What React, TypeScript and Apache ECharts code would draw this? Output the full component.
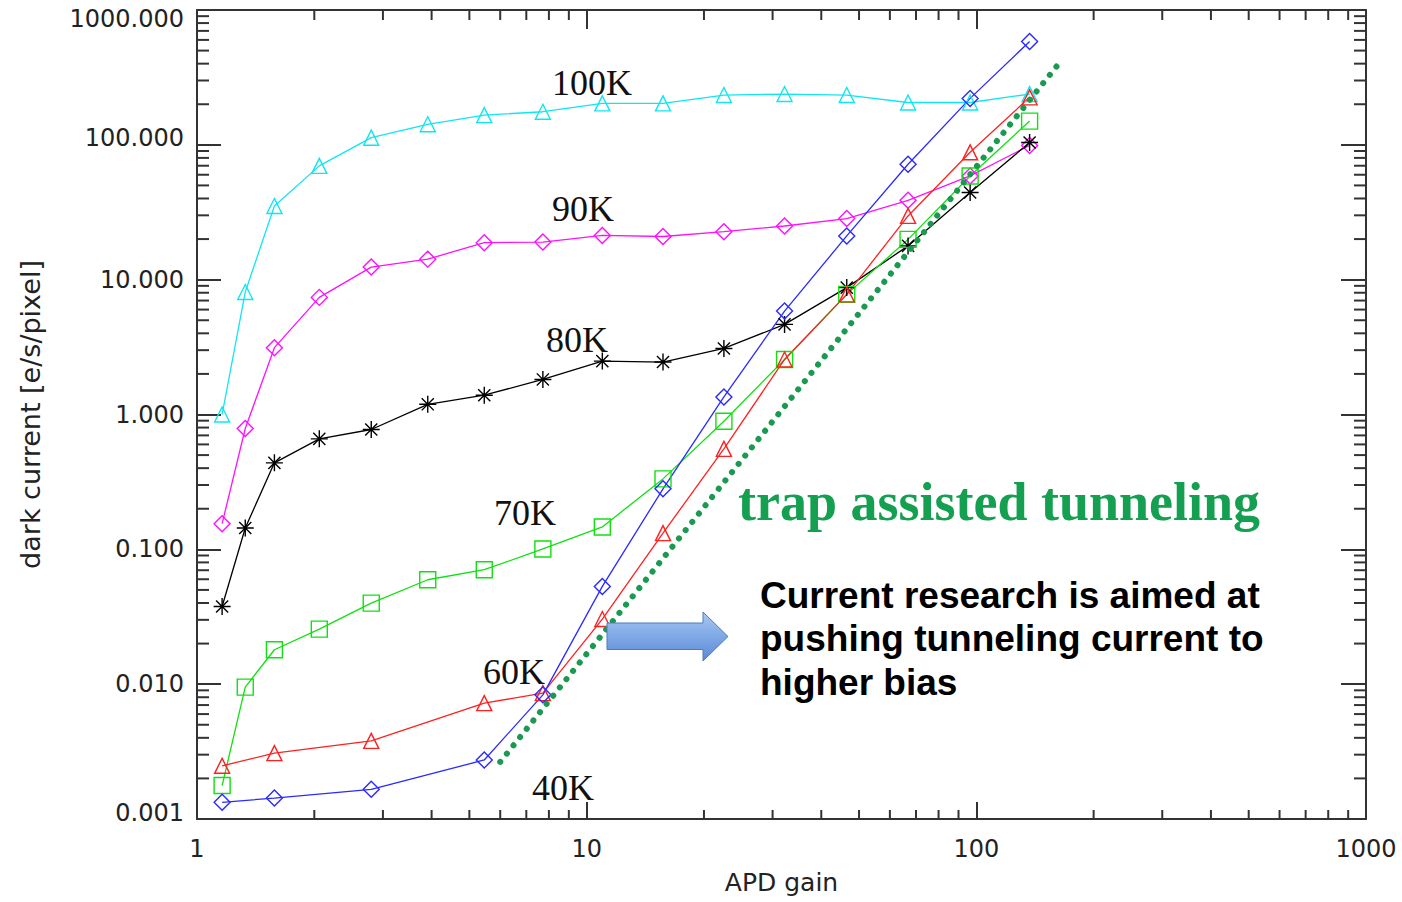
import React, { useEffect, useRef } from 'react';
import * as echarts from 'echarts';

// APD gain values at which the dark current was measured
const gain = [1.16, 1.33, 1.58, 2.06, 2.8, 3.91, 5.46, 7.72, 10.97, 15.7, 22.5, 32.2, 46.5, 66.8, 96.4, 137];
const gainSparse = [1.16, 1.58, 2.8, 5.46, 7.72, 10.97, 15.7, 22.5, 32.2, 46.5, 66.8, 96.4, 137];

// dark current [e/s/pixel]
const dc100K = [1.0, 8.1, 35.2, 69.8, 113, 142, 166, 176, 203, 203, 234, 238, 234, 206, 206, 238];
const dc90K = [0.155, 0.787, 3.13, 7.39, 12.4, 14.2, 18.8, 19.0, 21.3, 20.9, 22.7, 25.0, 28.4, 38.8, 58.8, 99];
const dc80K = [0.0377, 0.144, 0.438, 0.66, 0.774, 1.19, 1.39, 1.82, 2.49, 2.45, 3.09, 4.66, 8.73, 17.8, 44.3, 104];
const dc70K = [0.00177, 0.00951, 0.018, 0.0256, 0.0399, 0.0595, 0.0706, 0.1006, 0.1466, 0.333, 0.892, 2.56, 7.78, 19.9, 58.8, 150];
const dc60K = [0.00248, 0.00308, 0.0038, 0.00723, 0.00858, 0.0304, 0.132, 0.556, 2.56, 7.78, 29.7, 88, 225];
const dc40K = [0.00133, 0.00143, 0.00166, 0.00274, 0.00833, 0.0531, 0.281, 1.35, 5.85, 21.1, 71.8, 221, 584];

// trap assisted tunneling guide line
const tatGain = [6.0, 164];
const tatCurrent = [0.00265, 411];

// minor tick positions (log axes)
const minorMantissas = [2, 3, 4, 5, 6, 7, 8, 9];
const xDecades = [1, 10, 100];
const yDecades = [0.001, 0.01, 0.1, 1, 10, 100];

const seriesLabels = ['100K', '90K', '80K', '70K', '60K', '40K'];

const AXIS_COLOR = '#333';
const LABEL_FONT = 'DejaVu Sans';

const asteriskPath =
  'path://M8,0L8,16M0,8L16,8M2.3,2.3L13.7,13.7M2.3,13.7L13.7,2.3';

function pairs(xs: number[], ys: number[]) {
  return ys.map((y, i) => [xs[i], y]);
}

function lineSeries(name: string, xs: number[], ys: number[], color: string, symbol: string, size: number) {
  return {
    name,
    type: 'line',
    data: pairs(xs, ys),
    symbol,
    symbolSize: size,
    showSymbol: true,
    lineStyle: { color, width: 1.3 },
    itemStyle: { color: 'rgba(0,0,0,0)', borderColor: color, borderWidth: 1.4 },
    emphasis: { disabled: true },
    z: 3,
  };
}

export default function App() {
  const ref = useRef<HTMLDivElement>(null);

  useEffect(() => {
    if (!ref.current) return;
    const chart = echarts.init(ref.current, null, { renderer: 'svg' });

    const minorData: number[][] = [];
    xDecades.forEach((d) => minorMantissas.forEach((m) => minorData.push([d * m, 1, 0])));
    yDecades.forEach((d) => minorMantissas.forEach((m) => minorData.push([1, d * m, 1])));

    const labelStyle = { fontFamily: LABEL_FONT, fontSize: 24, color: '#222' };

    const option: any = {
      animation: false,
      backgroundColor: '#fff',
      grid: { left: 197, right: 36, top: 10, bottom: 83, containLabel: false },
      xAxis: [
        {
          type: 'log',
          logBase: 10,
          min: 1,
          max: 1000,
          position: 'bottom',
          name: 'APD gain',
          nameLocation: 'middle',
          nameGap: 51,
          nameTextStyle: { fontFamily: LABEL_FONT, fontSize: 25, color: '#222' },
          axisLine: { show: true, onZero: false, lineStyle: { color: AXIS_COLOR, width: 2 } },
          axisTick: { show: true, inside: true, length: 17, lineStyle: { color: AXIS_COLOR, width: 2 } },
          axisLabel: { ...labelStyle, margin: 18, formatter: (v: number) => String(Math.round(v)) },
          splitLine: { show: false },
        },
        {
          type: 'log',
          logBase: 10,
          min: 1,
          max: 1000,
          position: 'top',
          axisLine: { show: true, onZero: false, lineStyle: { color: AXIS_COLOR, width: 2 } },
          axisTick: { show: true, inside: true, length: 19, lineStyle: { color: AXIS_COLOR, width: 2 } },
          axisLabel: { show: false },
          splitLine: { show: false },
        },
      ],
      yAxis: [
        {
          type: 'log',
          logBase: 10,
          min: 0.001,
          max: 1000,
          position: 'left',
          name: 'dark current [e/s/pixel]',
          nameLocation: 'middle',
          nameGap: 153,
          nameTextStyle: { fontFamily: LABEL_FONT, fontSize: 27, color: '#222' },
          axisLine: { show: true, onZero: false, lineStyle: { color: AXIS_COLOR, width: 2 } },
          axisTick: { show: true, inside: true, length: 24, lineStyle: { color: AXIS_COLOR, width: 2 } },
          axisLabel: {
            ...labelStyle,
            margin: 13,
            formatter: (v: number) => {
              const s = v.toFixed(3);
              if (v > 500) return `{top|${s}}`;
              if (v > 50) return `{up|${s}}`;
              if (v < 0.002) return `{up|${s}}`;
              return s;
            },
            rich: {
              top: { ...labelStyle, padding: [18, 0, 0, 0] },
              up: { ...labelStyle, padding: [0, 0, 13, 0] },
            },
          },
          splitLine: { show: false },
        },
        {
          type: 'log',
          logBase: 10,
          min: 0.001,
          max: 1000,
          position: 'right',
          axisLine: { show: true, onZero: false, lineStyle: { color: AXIS_COLOR, width: 2 } },
          axisTick: { show: true, inside: true, length: 25, lineStyle: { color: AXIS_COLOR, width: 2 } },
          axisLabel: { show: false },
          splitLine: { show: false },
        },
      ],
      series: [
        {
          type: 'custom',
          name: 'minor ticks',
          silent: true,
          clip: false,
          data: minorData,
          renderItem: (params: any, api: any) => {
            const cs = params.coordSys;
            const kind = api.value(2);
            const p = api.coord([api.value(0), api.value(1)]);
            const style = { stroke: AXIS_COLOR, lineWidth: 2 };
            if (kind === 0) {
              const x = p[0];
              const bottom = cs.y + cs.height;
              const top = cs.y;
              return {
                type: 'group',
                children: [
                  { type: 'line', shape: { x1: x, y1: bottom, x2: x, y2: bottom - 9 }, style },
                  { type: 'line', shape: { x1: x, y1: top, x2: x, y2: top + 10 }, style },
                ],
              };
            }
            const y = p[1];
            const left = cs.x;
            const right = cs.x + cs.width;
            return {
              type: 'group',
              children: [
                { type: 'line', shape: { x1: left, y1: y, x2: left + 12, y2: y }, style },
                { type: 'line', shape: { x1: right, y1: y, x2: right - 12, y2: y }, style },
              ],
            };
          },
          z: 2,
        },
        {
          name: 'trap assisted tunneling',
          type: 'line',
          data: pairs(tatGain, tatCurrent),
          symbol: 'none',
          lineStyle: { color: '#1a9a50', width: 6, type: [0.1, 10.5], cap: 'round' },
          emphasis: { disabled: true },
          z: 4,
        },
        lineSeries(seriesLabels[0], gain, dc100K, '#10e6f0', 'triangle', 15),
        lineSeries(seriesLabels[1], gain, dc90K, '#ff10ff', 'diamond', 16),
        lineSeries(seriesLabels[2], gain, dc80K, '#000000', asteriskPath, 17),
        lineSeries(seriesLabels[3], gain, dc70K, '#10e010', 'rect', 16),
        lineSeries(seriesLabels[4], gainSparse, dc60K, '#ff2020', 'triangle', 15),
        lineSeries(seriesLabels[5], gainSparse, dc40K, '#2a2aff', 'diamond', 16),
      ],
      graphic: [
        ...[
          [592, 83],
          [583, 209],
          [577, 340],
          [525, 513],
          [514, 672],
          [563, 788],
        ].map(([x, y], i) => ({
          type: 'text',
          z: 10,
          style: {
            text: seriesLabels[i],
            x,
            y,
            fill: '#111',
            fontSize: 36,
            fontFamily: 'Liberation Serif',
            align: 'center',
            textAlign: 'center',
            verticalAlign: 'middle',
            textVerticalAlign: 'middle',
          },
        })),
        {
          type: 'text',
          z: 10,
          style: {
            text: 'trap assisted tunneling',
            x: 999,
            y: 502,
            fill: '#14a050',
            fontSize: 54,
            fontWeight: 'bold',
            fontFamily: 'Liberation Serif',
            align: 'center',
            textAlign: 'center',
            verticalAlign: 'middle',
            textVerticalAlign: 'middle',
          },
        },
        ...[
          ['Current research is aimed at', 595],
          ['pushing tunneling current to', 638],
          ['higher bias', 682],
        ].map(([t, y]) => ({
          type: 'text',
          z: 10,
          style: {
            text: t,
            x: 760,
            y,
            fill: '#000',
            fontSize: 37,
            fontWeight: 'bold',
            fontFamily: 'Liberation Sans',
            align: 'left',
            textAlign: 'left',
            verticalAlign: 'middle',
            textVerticalAlign: 'middle',
          },
        })),
        {
          type: 'polygon',
          z: 10,
          shape: {
            points: [
              [607, 623],
              [703, 623],
              [703, 612],
              [728, 636.5],
              [703, 661],
              [703, 649.5],
              [607, 649.5],
            ],
          },
          style: {
            fill: {
              type: 'linear',
              x: 0,
              y: 0,
              x2: 0,
              y2: 1,
              colorStops: [
                { offset: 0, color: '#a9c8f2' },
                { offset: 0.5, color: '#7fa8e6' },
                { offset: 1, color: '#5a88d4' },
              ],
            },
            stroke: '#4a7cc0',
            lineWidth: 1,
          },
        },
      ],
    };

    chart.setOption(option);
    return () => {
      chart.dispose();
    };
  }, []);

  return (
    <div
      ref={ref}
      style={{ position: 'absolute', left: 0, top: 0, width: 1402, height: 902, background: '#fff' }}
    />
  );
}
